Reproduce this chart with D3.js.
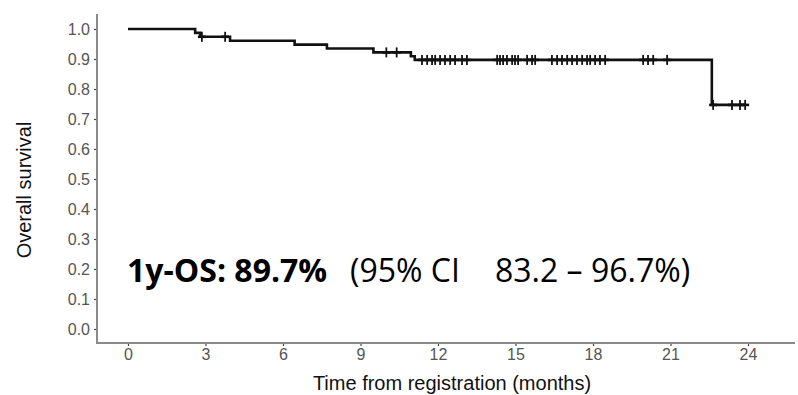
<!DOCTYPE html>
<html>
<head>
<meta charset="utf-8">
<script src="https://cdn.jsdelivr.net/npm/d3@7"></script>
<style>
  body { margin: 0; background: #fff; }
  .tick text { font-family: "Liberation Sans", Arial, sans-serif; }
</style>
</head>
<body>
<div id="chart"></div>
<script>
// Kaplan-Meier step points (time in months, survival)
const stepTimes = [0, 2.6, 2.8, 3.95, 6.45, 7.7, 9.5, 10.95, 11.1, 22.6, 23.9];
const stepSurv  = [1.0, 0.987, 0.974, 0.961, 0.948, 0.935, 0.922, 0.909, 0.897, 0.747, 0.747];

// censored observations
const censorTimes = [2.86, 3.76, 10.0, 10.4,
  11.38, 11.58, 11.77, 11.89, 12.08, 12.27, 12.47, 12.66, 12.93, 13.12,
  14.29, 14.40, 14.52, 14.67, 14.87, 14.98, 15.10, 15.45, 15.64, 15.76,
  16.41, 16.61, 16.80, 17.00, 17.19, 17.38, 17.58, 17.77, 17.89, 18.08, 18.27, 18.47,
  19.94, 20.13, 20.33, 20.87,
  22.65, 23.38, 23.69, 23.89];

const xTicks = [0, 3, 6, 9, 12, 15, 18, 21, 24];
const yTicks = [0, 0.1, 0.2, 0.3, 0.4, 0.5, 0.6, 0.7, 0.8, 0.9, 1.0];

const width = 798, height = 395;
const margin = { top: 14, right: 3, bottom: 52, left: 97 };

const svg = d3.select('#chart').append('svg')
  .attr('width', width)
  .attr('height', height);

const xScale = d3.scaleLinear().domain([0, 24]).range([128, 748]);
const yScale = d3.scaleLinear().domain([0, 1]).range([329, 29]);

// survival at time t (step function)
function survAt(t) {
  let s = stepSurv[0];
  for (let i = 0; i < stepTimes.length; i++) {
    if (stepTimes[i] <= t) s = stepSurv[i];
  }
  return s;
}

const axisColor = '#8a8a8a';
const axisY = height - margin.bottom;

// axes
const gx = svg.append('g')
  .attr('transform', `translate(0, ${axisY})`)
  .call(d3.axisBottom(xScale).tickValues(xTicks).tickSize(3).tickPadding(3));
const gy = svg.append('g')
  .attr('transform', `translate(${margin.left}, 0)`)
  .call(d3.axisLeft(yScale).tickValues(yTicks).tickFormat(d3.format('.1f')).tickSize(3).tickPadding(4));

[gx, gy].forEach(g => {
  g.select('.domain').remove();
  g.selectAll('.tick line').attr('stroke', '#444').attr('stroke-width', 1.2);
  g.selectAll('.tick text').attr('fill', '#555').style('font-size', '16px');
});

// axis lines (classic theme)
svg.append('line')
  .attr('x1', margin.left).attr('x2', margin.left)
  .attr('y1', margin.top).attr('y2', axisY)
  .attr('stroke', axisColor).attr('stroke-width', 2);
svg.append('line')
  .attr('x1', margin.left - 1).attr('x2', width - margin.right)
  .attr('y1', axisY).attr('y2', axisY)
  .attr('stroke', axisColor).attr('stroke-width', 2);

// axis titles
svg.append('text')
  .attr('x', 452).attr('y', 390)
  .attr('text-anchor', 'middle')
  .style('font-family', '"Liberation Sans", Arial, sans-serif')
  .style('font-size', '20px')
  .attr('fill', '#111')
  .text('Time from registration (months)');
svg.append('text')
  .attr('transform', `translate(31, 190) rotate(-90)`)
  .attr('text-anchor', 'middle')
  .style('font-family', '"Liberation Sans", Arial, sans-serif')
  .style('font-size', '20px')
  .attr('fill', '#111')
  .text('Overall survival');

// KM curve
const kmData = stepTimes.map((t, i) => ({ t: t, s: stepSurv[i] }));
const line = d3.line()
  .x(d => xScale(d.t))
  .y(d => yScale(d.s))
  .curve(d3.curveStepAfter);

svg.append('path')
  .datum(kmData)
  .attr('d', line)
  .attr('fill', 'none')
  .attr('stroke', '#111')
  .attr('stroke-width', 2.6);

// censor marks
const cg = svg.append('g');
censorTimes.forEach(t => {
  const cx = xScale(t), cy = yScale(survAt(t));
  cg.append('line')
    .attr('x1', cx).attr('x2', cx)
    .attr('y1', cy - 5).attr('y2', cy + 5)
    .attr('stroke', '#111').attr('stroke-width', 1.8);
  cg.append('line')
    .attr('x1', cx - 4).attr('x2', cx + 4)
    .attr('y1', cy).attr('y2', cy)
    .attr('stroke', '#111').attr('stroke-width', 2.6);
});

// annotation
const note = svg.append('text')
  .attr('x', 127).attr('y', 282)
  .style('font-family', '"Open Sans", "Noto Sans", sans-serif')
  .style('font-size', '32px')
  .attr('fill', '#000');
note.append('tspan').style('font-weight', 'bold').text('1y-OS: 89.7%');
note.append('tspan').attr('x', 350).text('(95% CI');
note.append('tspan').attr('x', 495).text('83.2 – 96.7%)');
</script>
</body>
</html>
